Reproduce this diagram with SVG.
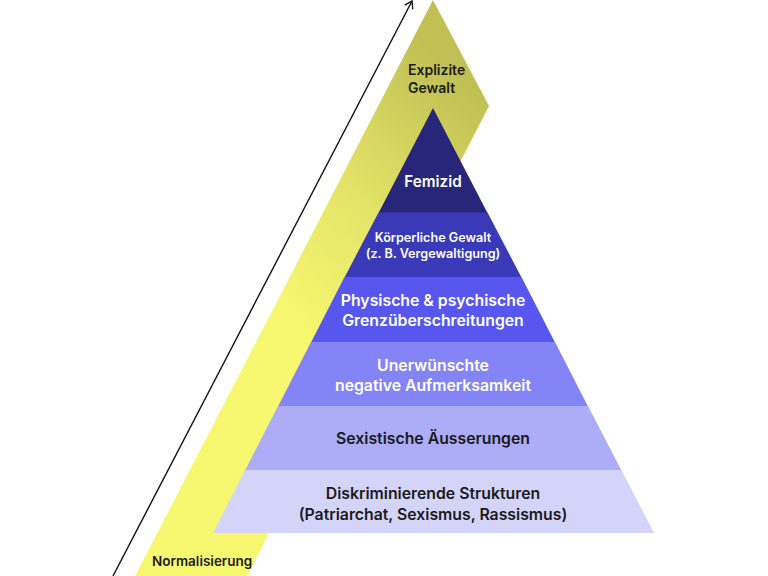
<svg xmlns="http://www.w3.org/2000/svg" width="768" height="576" viewBox="0 0 768 576">
<defs>
<linearGradient id="band" gradientUnits="userSpaceOnUse" x1="290" y1="330" x2="495" y2="110">
<stop offset="0" stop-color="#f8f870"/>
<stop offset="0.5" stop-color="#e2e268"/>
<stop offset="1" stop-color="#c0c054"/>
</linearGradient>
<marker id="arr" markerWidth="12" markerHeight="12" refX="10" refY="6" orient="auto" markerUnits="userSpaceOnUse">
<path d="M3,1.5 L10,6 L3,10.5" fill="none" stroke="#111" stroke-width="1.4"/>
</marker>
</defs>
<style>
.t{font-family:Inter,"Noto Sans","Liberation Sans",sans-serif;font-weight:600;text-anchor:middle}
.w{fill:#ffffff}
.d{fill:#1a1a1a}
</style>
<rect width="768" height="576" fill="#ffffff"/>
<g id="band-normalisierung">
<polygon points="433,0 489,106 247,576 135,576" fill="url(#band)"/>
<text x="408" y="75" font-family="Inter,'Noto Sans','Liberation Sans',sans-serif" font-weight="600" font-size="14" fill="#1a1a1a">Explizite</text>
<text x="408" y="93" font-family="Inter,'Noto Sans','Liberation Sans',sans-serif" font-weight="600" font-size="14" fill="#1a1a1a">Gewalt</text>
<text x="152" y="566" font-family="Inter,'Noto Sans','Liberation Sans',sans-serif" font-weight="600" font-size="13.5" fill="#1a1a1a">Normalisierung</text>
</g>
<g id="connectors">
<line x1="113" y1="576" x2="412" y2="1" stroke="#111" stroke-width="1.4" marker-end="url(#arr)"/>
</g>
<g id="femizid">
<polygon points="433,108 487.5,213 378.5,213" fill="#27267a"/>
<text class="t w" x="433" y="187" font-size="15.3">Femizid</text>
</g>
<g id="koerperliche-gewalt">
<polygon points="378.5,212.5 487.5,212.5 521.5,277.5 344.5,277.5" fill="#3a3ab9"/>
<text class="t w" x="433" y="242" font-size="12.6">Körperliche Gewalt</text>
<text class="t w" x="433" y="258" font-size="12.6">(z. B. Vergewaltigung)</text>
</g>
<g id="grenzueberschreitungen">
<polygon points="344.5,277 521.5,277 555,342.5 311,342.5" fill="#5757ef"/>
<text class="t w" x="433" y="306" font-size="15.8">Physische &amp; psychische</text>
<text class="t w" x="433" y="326" font-size="15.8">Grenzüberschreitungen</text>
</g>
<g id="aufmerksamkeit">
<polygon points="311,342 555,342 588,406.5 278,406.5" fill="#8484f6"/>
<text class="t w" x="433" y="371" font-size="15.8">Unerwünschte</text>
<text class="t w" x="433" y="391" font-size="15.8">negative Aufmerksamkeit</text>
</g>
<g id="aeusserungen">
<polygon points="278,406 588,406 621.5,470.5 245,470.5" fill="#acacf7"/>
<text class="t d" x="433" y="444" font-size="15.8">Sexistische Äusserungen</text>
</g>
<g id="strukturen">
<polygon points="245,470 621.5,470 654,533 213,533" fill="#d4d4fa"/>
<text class="t d" x="433" y="499" font-size="15.8">Diskriminierende Strukturen</text>
<text class="t d" x="433" y="520" font-size="15.8">(Patriarchat, Sexismus, Rassismus)</text>
</g>
</svg>
